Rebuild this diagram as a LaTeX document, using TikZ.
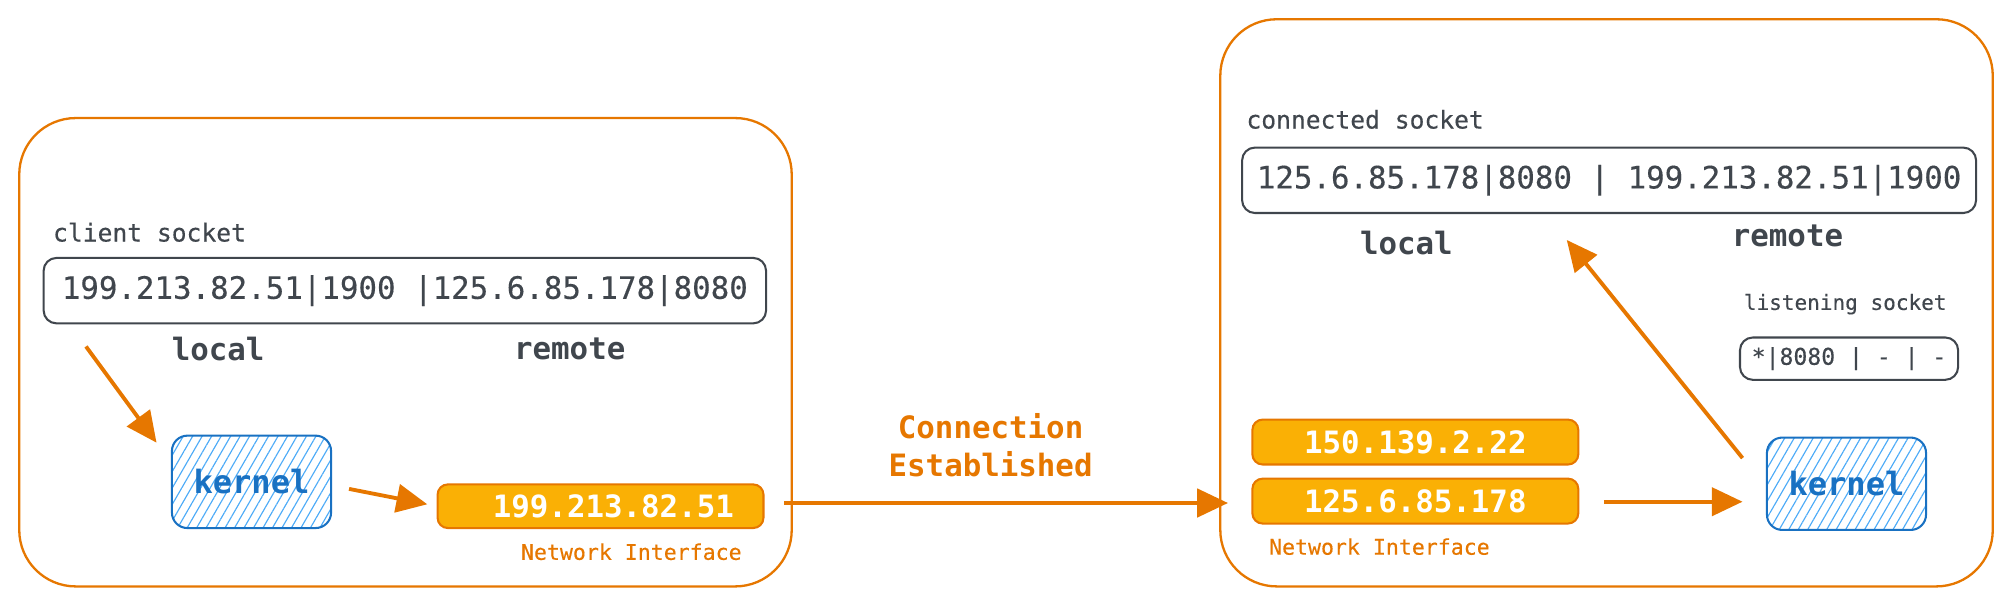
\documentclass[tikz,border=0pt]{standalone}
\usepackage{fontspec}
\setmainfont{DejaVu Sans Mono}
\setmonofont{DejaVu Sans Mono}
\newfontfamily\medmono[FakeBold=0.35]{DejaVu Sans Mono}
\usetikzlibrary{arrows.meta,patterns.meta}
\definecolor{orng}{HTML}{E67700}
\definecolor{nicfill}{HTML}{FAB005}
\definecolor{txtgray}{HTML}{40464D}
\definecolor{kblue}{HTML}{1971C2}
\definecolor{hblue}{HTML}{4DABF7}
\begin{document}
\begin{tikzpicture}[x=0.5pt,y=-0.5pt,
  container/.style={draw=orng, line width=0.9pt, rounded corners=22pt, minimum width=301pt, inner sep=0},
  sockbox/.style={draw=txtgray, line width=0.8pt, rounded corners=5pt, text=txtgray, inner sep=0, minimum height=25.5pt, font=\medmono\fontsize{12}{14}\selectfont},
  lbl/.style={text=txtgray, inner sep=0, font=\medmono\fontsize{9.6}{12}\selectfont},
  sidelbl/.style={text=txtgray, inner sep=0, font=\bfseries\fontsize{12}{14}\selectfont},
  kern/.style={draw=kblue, line width=0.8pt, rounded corners=6pt, pattern={Lines[angle=60,distance=3.2pt,line width=0.45pt]}, pattern color=hblue, text=kblue, font=\bfseries\fontsize{12.5}{14}\selectfont, minimum width=62pt, minimum height=36pt, inner sep=0},
  nic/.style={draw=orng, fill=nicfill, rounded corners=4pt, line width=0.8pt, text=white, font=\bfseries\fontsize{12}{14}\selectfont, minimum width=127pt, minimum height=17pt, inner sep=0},
  niclbl/.style={text=orng, inner sep=0, font=\medmono\fontsize{8.4}{10}\selectfont},
  arr/.style={draw=orng, line width=1.5pt, -{Triangle[length=12pt,width=11pt]}}
]
\useasboundingbox (0,0) rectangle (1568,472);
% containers
\node[container, minimum height=182.5pt] (lc) at (316,274.5) {};
\node[container, minimum height=221pt] (rc) at (1252,236) {};
% left side
\node[lbl, anchor=west] (cslbl) at (41,181) {client socket};
\node[sockbox, minimum width=281.5pt] (cs) at (315.5,226.5) {199.213.82.51|1900 |125.6.85.178|8080};
\node[sidelbl] (cloc) at (170,272) {local};
\node[sidelbl] (crem) at (444,272) {remote};
\node[kern] (kl) at (196,375.5) {kernel};
\node[nic] (nicl) at (468,394.5) {\hspace{10pt}199.213.82.51};
\node[niclbl] (nill) at (492,430) {Network Interface};
% right side
\node[lbl, anchor=west] (conlbl) at (971,93) {connected socket};
\node[sockbox, minimum width=286pt] (con) at (1254,140.5) {125.6.85.178|8080 | 199.213.82.51|1900};
\node[sidelbl] (rloc) at (1096,189) {local};
\node[sidelbl] (rrem) at (1393,184) {remote};
\node[lbl, font=\medmono\fontsize{8.2}{10}\selectfont] (lslbl) at (1438,237) {listening socket};
\node[sockbox, minimum width=85pt, minimum height=16.5pt, font=\medmono\fontsize{9}{11}\selectfont] (ls) at (1441,279.5) {*|8080 | - | -};
\node[nic, minimum height=17.5pt] (nicr1) at (1103,344.5) {150.139.2.22};
\node[nic, minimum height=17.5pt] (nicr2) at (1103,390.5) {125.6.85.178};
\node[niclbl] (nilr) at (1075,426) {Network Interface};
\node[kern] (kr) at (1439,377) {kernel};
% middle label
\node[text=orng, font=\bfseries\fontsize{12}{14.5}\selectfont, align=center, inner sep=0] (ce) at (772,347) {Connection\\Established};
% arrow endpoints
\coordinate (a1s) at (67,270);
\coordinate (a1e) at (122,345);
\coordinate (a2s) at (272,381);
\coordinate (a2e) at (333,393);
\coordinate (a3s) at (611,392);
\coordinate (a3e) at (957,392);
\coordinate (a4s) at (1250,391);
\coordinate (a4e) at (1358,391);
\coordinate (a5s) at (1358,357);
\coordinate (a5e) at (1221,187);
\draw[arr] (a1s) -- (a1e);
\draw[arr] (a2s) -- (a2e);
\draw[arr] (a3s) -- (a3e);
\draw[arr] (a4s) -- (a4e);
\draw[arr] (a5s) -- (a5e);
\end{tikzpicture}
\end{document}
